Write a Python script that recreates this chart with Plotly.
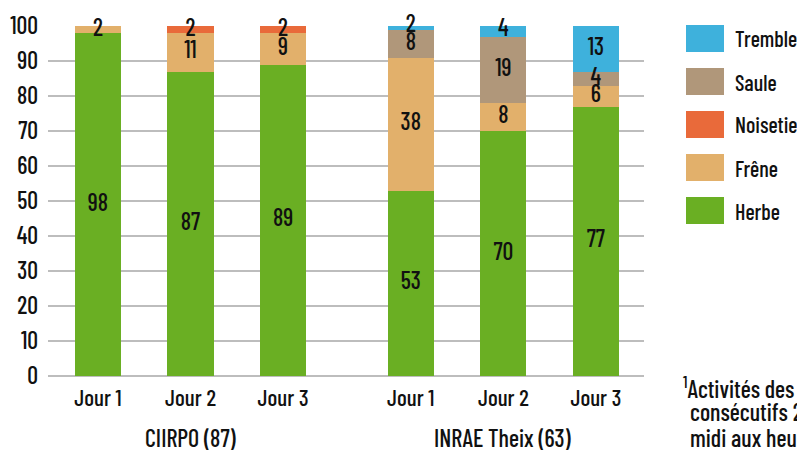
import plotly.graph_objects as go

# ---- data ----
days = ["Jour 1", "Jour 2", "Jour 3", "Jour 1", "Jour 2", "Jour 3"]
groups = ["CIIRPO (87)", "INRAE Theix (63)"]
herbe = [98, 87, 89, 53, 70, 77]
frene = [2, 11, 9, 38, 8, 6]
noisetier = [0, 2, 2, 0, 0, 0]
saule = [0, 0, 0, 8, 19, 4]
tremble = [0, 0, 0, 2, 4, 13]
footnote = ["<sup>1</sup>Activités des", "consécutifs 2", "midi aux heur"]

series = [
    ("Herbe", herbe, "#6AAF23"),
    ("Frêne", frene, "#E2B06B"),
    ("Noisetier", noisetier, "#E96A3A"),
    ("Saule", saule, "#B0977A"),
    ("Tremble", tremble, "#3EB1DC"),
]

FONT = "Barlow Condensed Medium, Barlow Condensed, Roboto Condensed, sans-serif"
TXT = "#111111"
OFF = 8  # page body margin
W, H = 805 - OFF, 452 - OFF
ML, MT = 48 - OFF, 26 - OFF
MR = W - (644 - OFF)
MB = H - (376 - OFF)
x_pos = [0, 1, 2, 3.38, 4.38, 5.38]

fig = go.Figure()
base = [0] * len(days)
lab_x, lab_y, lab_t = [], [], []
for name, vals, col in series:
    fig.add_trace(go.Bar(x=x_pos, y=vals, name=name, marker=dict(color=col, line=dict(width=0)),
                         width=0.5, showlegend=False, hoverinfo="name+y"))
    for i, v in enumerate(vals):
        if v > 0:
            lab_x.append(x_pos[i])
            lab_y.append(base[i] + v / 2)
            lab_t.append(str(v))
        base[i] += v

fig.add_trace(go.Scatter(x=lab_x, y=lab_y, text=lab_t, mode="text", textposition="middle center",
                         textfont=dict(family=FONT, size=24, color=TXT),
                         showlegend=False, hoverinfo="skip", cliponaxis=False))

pw = W - ML - MR
ph = H - MT - MB
def px(xs):
    return (xs - OFF - ML) / pw
def py(ys):
    return 1 - (ys - OFF - MT) / ph

shapes, annots = [], []
# custom legend
for k, (name, vals, col) in enumerate(reversed(series)):
    top = 25 + 43 * k
    shapes.append(dict(type="rect", xref="paper", yref="paper", x0=px(686), x1=px(724),
                       y0=py(top + 27), y1=py(top), fillcolor=col, line=dict(width=0)))
    annots.append(dict(xref="paper", yref="paper", x=px(733), y=py(top + 13.5), text=name,
                       showarrow=False, xanchor="left", yanchor="middle",
                       font=dict(family=FONT, size=22, color=TXT)))

# group labels
for g, idx in ((0, slice(0, 3)), (1, slice(3, 6))):
    xs = x_pos[idx]
    annots.append(dict(xref="x", yref="paper", x=sum(xs) / len(xs), y=py(438), text=groups[g],
                       showarrow=False, xanchor="center", yanchor="middle",
                       font=dict(family=FONT, size=24, color=TXT)))

# footnote
for j, line in enumerate(footnote):
    annots.append(dict(xref="paper", yref="paper", x=px(681 if j == 0 else 688), y=py(387 + 25 * j),
                       text=line, showarrow=False, xanchor="left", yanchor="middle",
                       font=dict(family=FONT, size=24, color=TXT)))

fig.update_layout(
    width=W, height=H, barmode="stack",
    margin=dict(l=ML, r=MR, t=MT, b=MB, pad=0, autoexpand=False),
    paper_bgcolor="white", plot_bgcolor="white",
    font=dict(family=FONT, size=23, color=TXT),
    shapes=shapes, annotations=annots, showlegend=False,
    bargap=0,
)
fig.update_xaxes(range=[-0.54, 5.9], tickmode="array", tickvals=x_pos, ticktext=days,
                 showgrid=False, zeroline=False, showline=False, ticks="", automargin=False,
                 tickfont=dict(family=FONT, size=23, color=TXT), ticklabelstandoff=6)
fig.update_yaxes(range=[0, 100], tickmode="array", tickvals=list(range(0, 101, 10)),
                 showgrid=True, gridcolor="#BDBDBD", gridwidth=1.5, automargin=False,
                 zeroline=True, zerolinecolor="#BDBDBD", zerolinewidth=1.5,
                 showline=False, ticks="", ticklabelstandoff=9,
                 tickfont=dict(family=FONT, size=24, color=TXT))

fig.write_html("out.html")
